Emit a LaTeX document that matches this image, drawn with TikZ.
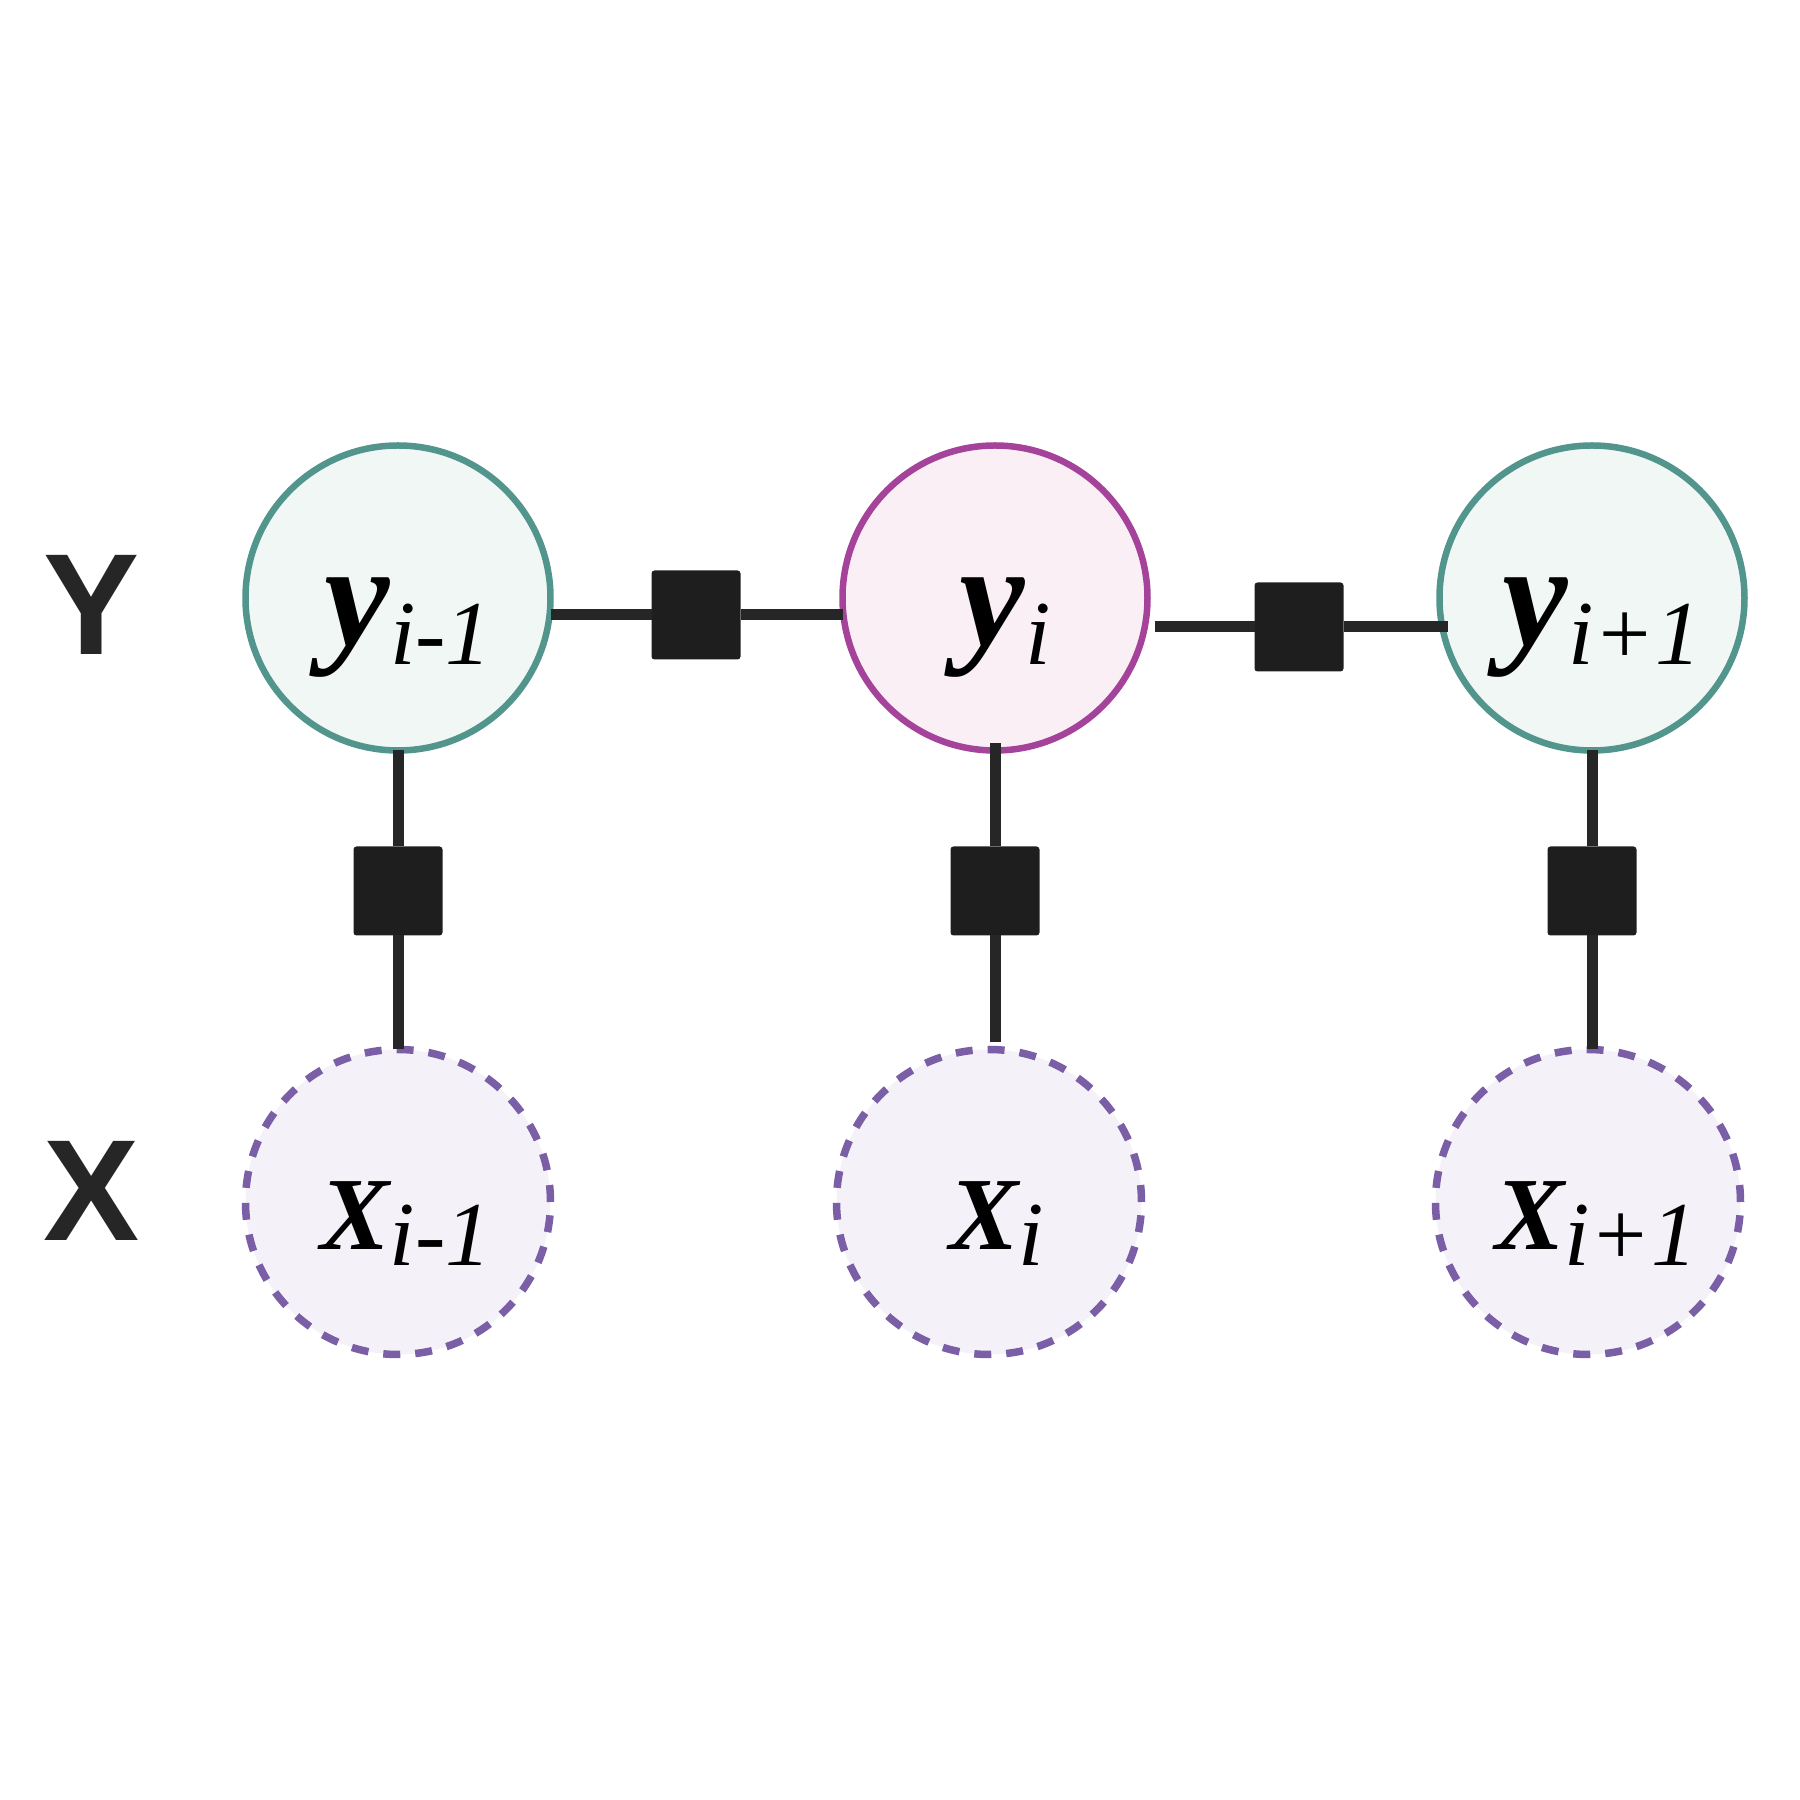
\documentclass[tikz,border=0pt]{standalone}
\usepackage{fontspec}
\setmainfont{Liberation Serif}
\newfontfamily\rowfont{Liberation Sans}
\usetikzlibrary{positioning}

\definecolor{tealline}{HTML}{52958D}
\definecolor{tealfill}{HTML}{F1F7F5}
\definecolor{magline}{HTML}{A5439A}
\definecolor{magfill}{HTML}{F9EFF5}
\definecolor{obsline}{HTML}{7A5EA6}
\definecolor{obsfill}{HTML}{F4F2F8}
\definecolor{facfill}{HTML}{1E1E1E}
\definecolor{linecol}{HTML}{262626}

\newcommand{\yvar}[1]{\hspace*{0.2cm}{\fontsize{42}{42}\selectfont\bfseries\itshape y}\raisebox{-0.19cm}{\fontsize{26}{26}\selectfont\itshape #1}}
\newcommand{\xvar}[1]{\hspace*{0.16cm}{\fontsize{29.5}{30}\selectfont\bfseries\itshape X}\raisebox{-0.16cm}{\fontsize{26}{26}\selectfont\itshape #1}}

\begin{document}
\begin{tikzpicture}[
    var/.style={circle, line width=0.065cm, outer sep=0pt, minimum size=3.05cm, inner sep=0pt, text height=1.2cm, text depth=0.25cm},
    hid/.style={var, draw=tealline, fill=tealfill},
    cur/.style={var, draw=magline, fill=magfill},
    obs/.style={var, line width=0.075cm, draw=obsline, fill=obsfill, dash pattern=on 0.17cm off 0.15cm},
    fac/.style={rectangle, fill=facfill, minimum size=0.89cm, rounded corners=0.03cm, inner sep=0pt, outer sep=0pt},
    edge/.style={draw=linecol, line width=0.11cm},
    row/.style={font=\rowfont\bfseries\fontsize{41}{41}\selectfont, text=linecol}]
    \useasboundingbox (0,0) rectangle (18,18);

    % rows
    \node[row] (Y) at (0.92, 11.95) {Y};
    \node[row] (X) at (0.92, 6.09) {X};

    \node[hid] (yim1) at (3.98, 12.02) {\yvar{i-1}};
    \node[cur] (yi) at (9.95, 12.02) {\yvar{i}};
    \node[hid] (yip1) at (15.92, 12.02) {\yvar{i+1}};

    \node[obs] (xim1) at (3.98, 5.98) {\xvar{i-1}};
    \node[obs] (xi) at (9.89, 5.98) {\xvar{i}};
    \node[obs] (xip1) at (15.88, 5.98) {\xvar{i+1}};

    % factors
    \node[fac] (fa) at (6.96, 11.85) {};
    \node[fac] (fb) at (12.99, 11.73) {};
    \node[fac] (fim1) at (3.98, 9.09) {};
    \node[fac] (fi) at (9.95, 9.09) {};
    \node[fac] (fip1) at (15.92, 9.09) {};

    \draw[edge] (yim1.east |- fa) -- (fa.west);
    \draw[edge] (fa.east) -- (yi.west |- fa);
    \draw[edge] ([xshift=0.07cm]yi.east |- fb) -- (fb.west);
    \draw[edge] (fb.east) -- ([xshift=0.08cm]yip1.west |- fb);

    \draw[edge] (yim1.south) -- (fim1.north);
    \draw[edge] (fim1.south) -- (fim1 |- xim1.north);
    \draw[edge] ([yshift=0.07cm]yi.south) -- (fi.north);
    \draw[edge] (fi.south) -- ([yshift=0.07cm]fi |- xi.north);
    \draw[edge] (yip1.south) -- (fip1.north);
    \draw[edge] (fip1.south) -- (fip1 |- xip1.north);
\end{tikzpicture}
\end{document}
